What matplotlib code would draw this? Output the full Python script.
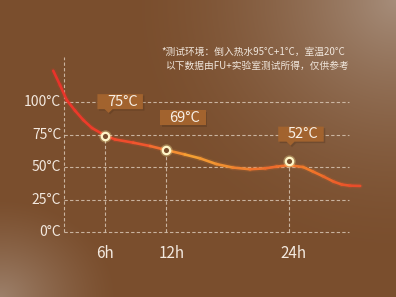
import numpy as np
import matplotlib
matplotlib.use('Agg')
import matplotlib.pyplot as plt
from matplotlib.collections import LineCollection
from matplotlib.patches import Polygon
from matplotlib.transforms import IdentityTransform
from matplotlib.colors import to_rgb

plt.rcParams['font.family'] = ['Noto Sans CJK SC', 'DejaVu Sans']

# curve (hours, plotted temperature)
curve_h = [0.91, 1.57, 2.23, 3.04, 3.85, 4.71, 6.0, 6.96, 8.75, 10.4, 12.0, 13.8, 15.3,
           16.9, 18.5, 20.2, 21.7, 22.8, 24.0, 25.4, 26.4, 27.4, 28.4, 29.2, 30.0, 31.0]
curve_t = [124.5, 113.5, 101.9, 93.8, 86.5, 80.3, 74.5, 71.5, 69.0, 66.4, 63.3, 59.9, 56.9,
           52.5, 49.8, 48.5, 49.2, 50.5, 51.6, 50.2, 46.6, 42.9, 38.9, 36.7, 35.8, 35.6]
mark_h = [6, 12, 24]
mark_t = [74.4, 63.1, 54.9]
mark_labels = ['75°C', '69°C', '52°C']
y_ticks = [0, 25, 50, 75, 100]
y_labels = ['0°C', '25°C', '50°C', '75°C', '100°C']
x_labels = ['6h', '12h', '24h']
note1 = '*测试环境：倒入热水95°C+1°C，室温20°C'
note2 = '以下数据由FU+实验室测试所得，仅供参考'

W, H = 396, 297
fig = plt.figure(figsize=(W / 100, H / 100), dpi=100)

# background gradient
bg = fig.add_axes([0, 0, 1, 1])
yy, xx = np.mgrid[0:H, 0:W]
base = np.array(to_rgb('#7a4e2d'))
light = np.array(to_rgb('#a68d7a'))
d1 = np.hypot((xx - W) * 1.0, yy * 1.05) / 280.0
w1 = np.clip(1 - d1, 0, 1) ** 1.8
d2 = np.hypot(xx * 1.1, (yy - H) * 1.3) / 130.0
w2 = np.clip(1 - d2, 0, 1) ** 1.3 * 0.8
w = np.clip(w1 + w2, 0, 1)[..., None]
img = base * (1 - w) + light * w
bg.imshow(img, extent=[0, W, H, 0], aspect='auto')
bg.axis('off')

ax = fig.add_axes([0, 0, 1, 1])
ax.patch.set_alpha(0)
ax.axis('off')
ax.set_xlim(-4.31, 34.51)
ax.set_ylim(-50.1, 179.1)

gcol = '#d8c6b4'
gl, gr = 1.99, 29.9
for t in y_ticks:
    ax.plot([gl, gr], [t, t], color=gcol, lw=0.8, ls=(0, (3, 2)), alpha=0.85)
ax.plot([gl, gl], [0, 135.1], color=gcol, lw=0.8, ls=(0, (3, 2)), alpha=0.85)
for h, t in zip(mark_h, mark_t):
    ax.plot([h, h], [0, t], color=gcol, lw=0.8, ls=(0, (3, 2)), alpha=0.85)

for t, lab in zip(y_ticks, y_labels):
    ax.text(1.7, t, lab, ha='right', va='center', fontsize=10, color='#f3e9df')
for h, lab in zip(mark_h, x_labels):
    ax.annotate(lab, (h, -16.9), xytext=(0 if h < 10 else 5, 0), textcoords='offset pixels',
                ha='center', va='center', fontsize=11, color='#f3e9df')

# gradient curve
pts = np.column_stack([curve_h, curve_t])
segs = np.stack([pts[:-1], pts[1:]], axis=1)
mid = (pts[:-1, 0] + pts[1:, 0]) / 2
anc_h = [0, 5, 10, 14, 18, 22, 26, 31]
anc_c = ['#e8302a', '#ee3d2a', '#f0582e', '#f5a234', '#f08c30', '#ee6a2c', '#f07a2a', '#e8482a']
anc_rgb = np.array([to_rgb(c) for c in anc_c])
cols = np.column_stack([np.interp(mid, anc_h, anc_rgb[:, i]) for i in range(3)])
ax.add_collection(LineCollection(segs, colors=cols, linewidths=4, alpha=0.12, capstyle='round'))
ax.add_collection(LineCollection(segs, colors=cols, linewidths=1.9, capstyle='round'))

# markers and label boxes
offsets = [(15, 34), (16.6, 32.8), (12.2, 26.8)]
tips = [(3.4, 22.7), (5.7, 25.3), (1.7, 15.3)]
for h, t, lab, (dx, dy), (tx, ty) in zip(mark_h, mark_t, mark_labels, offsets, tips):
    ax.scatter([h], [t], s=80, color='#fff2a0', alpha=0.3, zorder=5, lw=0)
    ax.scatter([h], [t], s=28, facecolor='#7a4e2d', edgecolor='#fff6c8', lw=1.6, zorder=6)
    px, py = ax.transData.transform((h, t))
    cx, cy = px + dx, py + dy
    bw, bh = 45.5, 15
    box = Polygon([(cx - bw / 2, cy - bh / 2), (px + tx - 4, cy - bh / 2), (px + tx, py + ty),
                   (px + tx + 4, cy - bh / 2), (cx + bw / 2, cy - bh / 2),
                   (cx + bw / 2, cy + bh / 2), (cx - bw / 2, cy + bh / 2)],
                  closed=True, transform=IdentityTransform(), facecolor='#a2632e',
                  edgecolor='none', zorder=7)
    shadow = Polygon(box.get_xy() + np.array([1.5, -1.5]), closed=True, transform=IdentityTransform(),
                     facecolor='#4a2e18', alpha=0.3, edgecolor='none', zorder=6.5)
    fig.patches.append(shadow)
    fig.patches.append(box)
    fig.text((cx + 2) / W, cy / H, lab, ha='center', va='center', fontsize=10.5,
             color='#f7efe6', zorder=8)

fig.text(161.7 / W, 1 - 51.7 / H, note1, ha='left', va='center', fontsize=7, color='#f0e6dc')
fig.text(166 / W, 1 - 65.7 / H, note2, ha='left', va='center', fontsize=7, color='#f0e6dc')

fig.savefig('out.png', dpi=100)
